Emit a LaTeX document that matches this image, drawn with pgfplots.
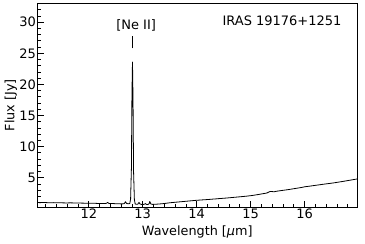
\documentclass[border=0pt]{standalone}
\usepackage{fontspec}
\setmainfont{DejaVu Sans}
\usepackage{pgfplots}
\pgfplotsset{compat=1.18}
\begin{document}
\begin{tikzpicture}
\begin{axis}[
 name=ax,
 scale only axis, width=319.5pt, height=203.5pt,
 xmin=11.05, xmax=16.97, ymin=0.3, ymax=33,
 xtick={12,13,14,15,16}, ytick={5,10,15,20,25,30},
 minor xtick={11.2,11.4,11.6,11.8,12.2,12.4,12.6,12.8,13.2,13.4,13.6,13.8,14.2,14.4,14.6,14.8,15.2,15.4,15.6,15.8,16.2,16.4,16.6,16.8},
 minor ytick={1,2,3,4,6,7,8,9,11,12,13,14,16,17,18,19,21,22,23,24,26,27,28,29,31,32,33},
 tick align=inside, tick pos=left,
 major tick length=6.5pt, minor tick length=3.5pt,
 tick style={black, line width=0.8pt},
 axis line style={line width=0.9pt},
 /pgf/number format/assume math mode=true,
 ticklabel style={font=\fontsize{13}{15}\selectfont},
 xticklabel style={inner sep=1.5pt},
 yticklabel style={inner sep=1.5pt},
 xlabel={Wavelength [{\itshape μ}m]},
 ylabel={Flux [Jy]},
 label style={font=\fontsize{12.8}{15}\selectfont},
 xlabel style={at={(axis description cs:0.5,0)}, anchor=base, yshift=-28pt},
 ylabel style={at={(axis description cs:-0.072,0.5)}, anchor=base},
]
\addplot[black, line width=0.8pt, line join=round] coordinates {
(11.05,1.02) (11.1,1.00) (11.15,1.03) (11.2,1.01) (11.25,0.99) (11.3,0.98) (11.35,1.00) (11.4,0.99)
(11.45,0.97) (11.5,0.97) (11.55,0.96) (11.6,0.95) (11.65,0.97) (11.7,0.96) (11.75,0.94) (11.8,0.93)
(11.85,0.93) (11.9,0.92) (11.95,0.91) (12.0,0.90) (12.05,0.91) (12.1,0.90) (12.15,0.88) (12.2,0.87)
(12.25,0.87) (12.3,0.86) (12.33,0.90) (12.35,1.05) (12.37,0.88) (12.4,0.86) (12.45,0.85) (12.5,0.83)
(12.55,0.82) (12.6,0.80) (12.64,0.81) (12.66,0.86) (12.68,1.15) (12.70,0.88) (12.73,0.82) (12.76,0.86)
(12.775,1.6) (12.79,6.5) (12.80,18.5) (12.81,23.6) (12.82,17.5) (12.83,6.0) (12.845,1.5) (12.86,0.78)
(12.88,0.74) (12.91,0.76) (12.93,1.05) (12.95,0.78) (12.98,0.71) (13.0,0.70) (13.03,0.74) (13.05,0.85)
(13.07,0.71) (13.1,0.72) (13.12,0.85) (13.13,1.20) (13.15,0.80) (13.18,0.72) (13.2,0.73) (13.25,0.75)
(13.3,0.78) (13.35,0.82) (13.4,0.86) (13.45,0.92) (13.5,0.98) (13.55,1.02) (13.6,1.06) (13.65,1.10)
(13.7,1.14) (13.75,1.18) (13.8,1.22) (13.85,1.26) (13.9,1.30) (13.95,1.34) (14.0,1.38) (14.05,1.41)
(14.1,1.44) (14.15,1.47) (14.2,1.50) (14.25,1.53) (14.3,1.57) (14.35,1.60) (14.4,1.64) (14.45,1.67)
(14.5,1.71) (14.55,1.74) (14.6,1.78) (14.65,1.82) (14.7,1.86) (14.75,1.90) (14.8,1.94) (14.85,1.98)
(14.9,2.02) (14.95,2.07) (15.0,2.12) (15.05,2.18) (15.1,2.25) (15.15,2.32) (15.2,2.40) (15.25,2.47)
(15.3,2.55) (15.33,2.68) (15.36,2.80) (15.4,2.78) (15.43,2.74) (15.46,2.80) (15.5,2.86) (15.55,2.92)
(15.6,2.98) (15.65,3.04) (15.7,3.10) (15.75,3.17) (15.8,3.24) (15.85,3.31) (15.9,3.38) (15.95,3.45)
(16.0,3.55) (16.05,3.60) (16.1,3.66) (16.15,3.72) (16.2,3.78) (16.25,3.84) (16.3,3.90) (16.35,3.96)
(16.4,4.02) (16.45,4.07) (16.5,4.13) (16.55,4.19) (16.6,4.26) (16.65,4.33) (16.7,4.40) (16.75,4.47)
(16.8,4.55) (16.85,4.62) (16.9,4.70) (16.97,4.80)
};
\node[anchor=base, font=\fontsize{13}{15}\selectfont] at (axis cs:12.878,28.9) {[Ne II]};
\draw[line width=1pt] (axis cs:12.81,25.8) -- (axis cs:12.81,27.8);
\node[anchor=base east, font=\fontsize{13}{15}\selectfont] at (axis description cs:0.9624,0.894) {IRAS 19176+1251};
\end{axis}
\pgfresetboundingbox
\path ([xshift=-37.5pt,yshift=-36pt]ax.south west) rectangle ([xshift=8pt,yshift=3.5pt]ax.north east);
\end{tikzpicture}
\end{document}
